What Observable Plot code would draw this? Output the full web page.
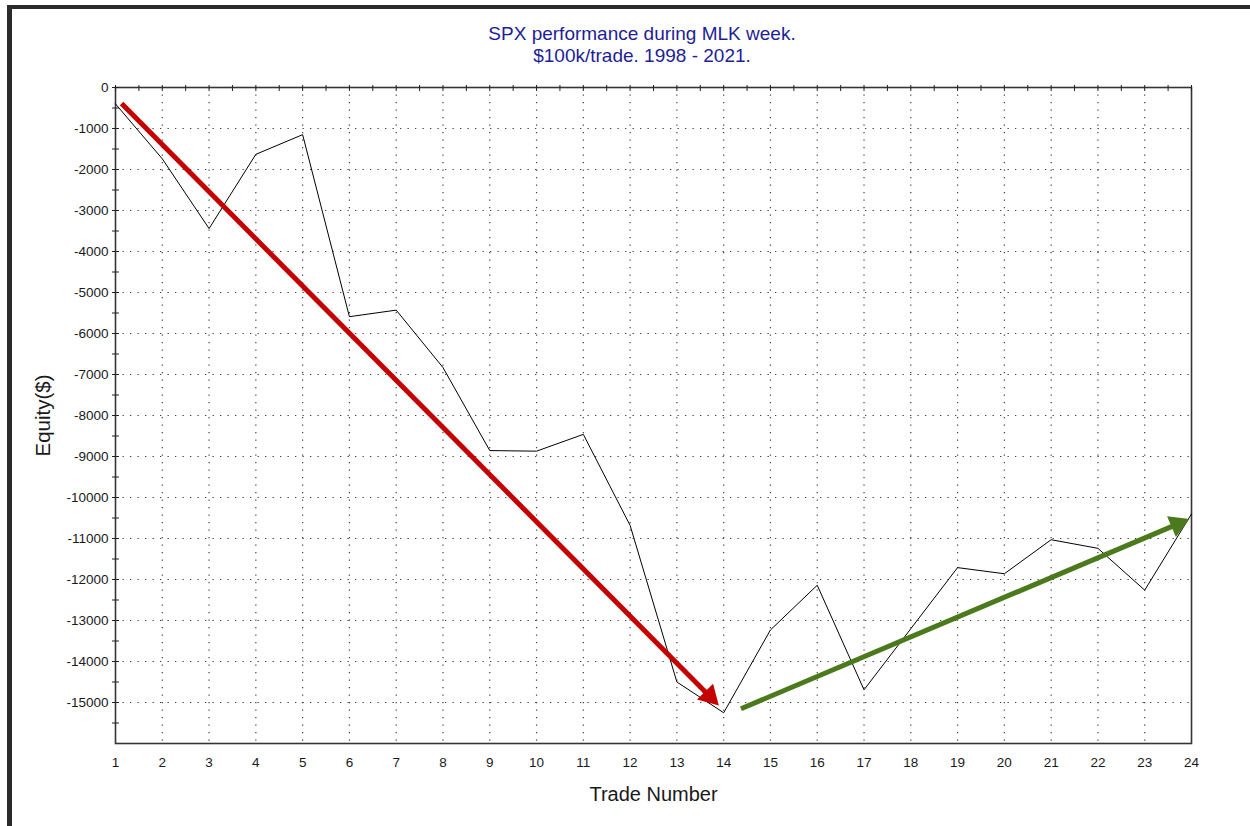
<!DOCTYPE html>
<html><head><meta charset="utf-8">
<script src="https://cdn.jsdelivr.net/npm/d3@7"></script>
<script src="https://cdn.jsdelivr.net/npm/@observablehq/plot@0.6"></script>
<style>
body{margin:0;background:#fff;}
#wrap{position:relative;width:1250px;height:826px;overflow:hidden;font-family:"Liberation Sans",Arial,sans-serif;background:#fff;}
#frame{position:absolute;left:7px;top:5px;right:-10px;bottom:-10px;border-top:4px solid #2b2b2b;border-left:5px solid #2b2b2b;pointer-events:none;}
#title{position:absolute;left:0;width:1284px;top:23px;text-align:center;color:#1e1e96;font-size:19px;line-height:22.3px;}
#chart{position:absolute;left:0;top:0;}
</style></head>
<body>
<div id="wrap">
  <div id="chart"></div>
  <div id="frame"></div>
  <div id="title">SPX performance during MLK week.<br>$100k/trade. 1998 - 2021.</div>
</div>
<script>
// ---- data ----
const trades = [1,2,3,4,5,6,7,8,9,10,11,12,13,14,15,16,17,18,19,20,21,22,23,24];
const equity = [-400,-1740,-3440,-1630,-1150,-5590,-5430,-6830,-8855,-8870,-8460,-10680,
                -14500,-15250,-13230,-12140,-14690,-13200,-11710,-11860,-11030,-11240,-12260,-10400];
const yLabelTicks = [0,-1000,-2000,-3000,-4000,-5000,-6000,-7000,-8000,-9000,-10000,-11000,-12000,-13000,-14000,-15000];
const yMinorTicks = [0,-500,-1000,-1500,-2000,-2500,-3000,-3500,-4000,-4500,-5000,-5500,-6000,-6500,-7000,-7500,
                     -8000,-8500,-9000,-9500,-10000,-10500,-11000,-11500,-12000,-12500,-13000,-13500,-14000,-14500,-15000,-15500];
const yGridTicks = [-1000,-2000,-3000,-4000,-5000,-6000,-7000,-8000,-9000,-10000,-11000,-12000,-13000,-14000,-15000];
const xGridTicks = [2,3,4,5,6,7,8,9,10,11,12,13,14,15,16,17,18,19,20,21,22,23];
const xTopTicks = [1,1.5,2,2.5,3,3.5,4,4.5,5,5.5,6,6.5,7,7.5,8,8.5,9,9.5,10,10.5,11,11.5,12,12.5,
                   13,13.5,14,14.5,15,15.5,16,16.5,17,17.5,18,18.5,19,19.5,20,20.5,21,21.5,22,22.5,23,23.5,24];
const redArrow = [{x1:1.13, y1:-390, x2:13.70, y2:-14848}];
const greenArrow = [{x1:14.37, y1:-15152, x2:23.70, y2:-10650}];

const data = trades.map((t,i)=>({trade:t, equity:equity[i]}));

// ---- layout ----
const W = 1250, H = 826, ML = 115, MR = 59, MT = 87, MB = 83;
const xDomain = [1,24], yDomain = [-16000,0];
const kx = (W-ML-MR)/(xDomain[1]-xDomain[0]);
const ky = (H-MT-MB)/(yDomain[1]-yDomain[0]);
function headRotate(a){
  const sdx = (a.x2-a.x1)*kx, sdy = -(a.y2-a.y1)*ky;
  return Math.atan2(sdy, sdx)*180/Math.PI + 90;
}
const RED = "#c40000", GREEN = "#4a7a1c";
const dotStyle = {stroke:"#404040", strokeOpacity:1, strokeWidth:1.2, strokeDasharray:"1.3,6.2"};

const chart = Plot.plot({
  width: W, height: H,
  marginLeft: ML, marginRight: MR, marginTop: MT, marginBottom: MB,
  style: {fontFamily: '"Liberation Sans", Arial, sans-serif', fontSize: "13.5px", color: "#1a1a1a", background: "transparent"},
  x: {domain: xDomain, label: null},
  y: {domain: yDomain, label: null},
  marks: [
    Plot.gridX({ticks: xGridTicks, ...dotStyle}),
    Plot.gridY({ticks: yGridTicks, ...dotStyle}),
    Plot.frame({stroke: "#353535", strokeWidth: 1.6}),
    Plot.axisY({ticks: yMinorTicks, tickSize: 7, dx: 4, text: null, stroke: "#222"}),
    Plot.axisY({ticks: yLabelTicks, tickSize: 0, tickPadding: 7, tickFormat: d => String(d), fill: "#1a1a1a"}),
    Plot.axisX({anchor: "top", ticks: xTopTicks, tickSize: 6, dy: 3, text: null, stroke: "#222"}),
    Plot.axisX({anchor: "bottom", ticks: trades, tickSize: 0, tickPadding: 14, tickFormat: d => String(d), fill: "#1a1a1a"}),
    Plot.text(["Equity($)"], {frameAnchor: "left", textAnchor: "middle", lineAnchor: "middle", dx: -72, rotate: -90, fontSize: 20.5, fill: "#1a1a1a"}),
    Plot.text(["Trade Number"], {frameAnchor: "bottom", textAnchor: "middle", lineAnchor: "middle", dy: 51, fontSize: 20, fill: "#1a1a1a"}),
    Plot.line(data, {x: "trade", y: "equity", stroke: "#000", strokeWidth: 1}),
    Plot.link(redArrow, {x1: "x1", y1: "y1", x2: "x2", y2: "y2", stroke: RED, strokeWidth: 5, ariaLabel: "arrow-red"}),
    Plot.dot(redArrow, {x: "x2", y: "y2", symbol: "triangle", r: 8.4, fill: RED, stroke: "none", rotate: headRotate(redArrow[0]), ariaLabel: "arrow-red-head"}),
    Plot.link(greenArrow, {x1: "x1", y1: "y1", x2: "x2", y2: "y2", stroke: GREEN, strokeWidth: 5, ariaLabel: "arrow-green"}),
    Plot.dot(greenArrow, {x: "x2", y: "y2", symbol: "triangle", r: 8.4, fill: GREEN, stroke: "none", rotate: headRotate(greenArrow[0]), ariaLabel: "arrow-green-head"})
  ]
});
document.getElementById("chart").appendChild(chart);
d3.select(chart).selectAll('[aria-label^="arrow"]')
  .style("filter", "drop-shadow(3px 4px 3px rgba(0,0,0,0.45))");
</script>
</body></html>
